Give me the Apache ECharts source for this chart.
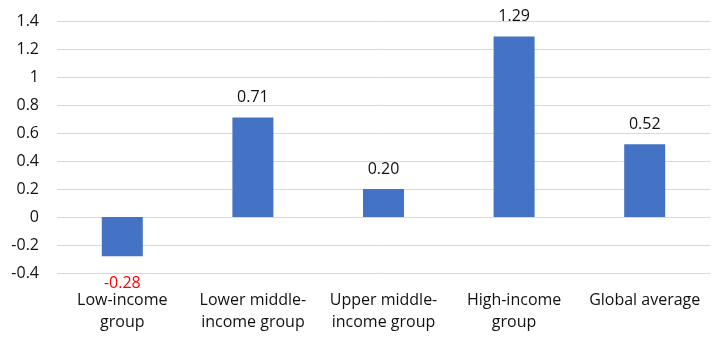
<!DOCTYPE html>
<html>
<head>
<meta charset="utf-8">
<script src="https://cdn.jsdelivr.net/npm/echarts@6/dist/echarts.min.js"></script>
<style>
  html, body { margin: 0; padding: 0; background: #fff; }
  #chart { width: 722px; height: 341px; }
</style>
</head>
<body>
<div id="chart"></div>
<script>
// Income groups and their values
const categories = [
  'Low-income\ngroup',
  'Lower middle-\nincome group',
  'Upper middle-\nincome group',
  'High-income\ngroup',
  'Global average'
];
const values = [-0.28, 0.71, 0.20, 1.29, 0.52];
const yTicks = { min: -0.4, max: 1.4, step: 0.2 };

const FONT = '"Open Sans", "Noto Sans", sans-serif';

const chart = echarts.init(document.getElementById('chart'), null, { renderer: 'canvas' });

chart.setOption({
  animation: false,
  backgroundColor: '#ffffff',
  grid: { left: 57, right: 12, top: 21, bottom: 68, containLabel: false },
  xAxis: {
    type: 'category',
    data: categories,
    position: 'bottom',
    axisLine: { show: false, onZero: false },
    axisTick: { show: false },
    axisLabel: {
      color: '#111111',
      fontFamily: FONT,
      fontSize: 16,
      lineHeight: 22,
      margin: 16,
      interval: 0
    }
  },
  yAxis: {
    type: 'value',
    min: yTicks.min,
    max: yTicks.max,
    interval: yTicks.step,
    axisLine: { show: false },
    axisTick: { show: false },
    splitLine: { lineStyle: { color: '#d9d9d9', width: 1 } },
    axisLabel: {
      color: '#111111',
      fontFamily: FONT,
      fontSize: 16,
      margin: 18,
      formatter: v => String(Math.round(v * 10) / 10)
    }
  },
  series: [{
    type: 'bar',
    barWidth: 41,
    data: values.map(v => ({
      value: v,
      label: v < 0 ? { color: '#ff0000', position: 'bottom', distance: 19 } : {}
    })),
    itemStyle: { color: '#4472c4' },
    label: {
      show: true,
      position: 'top',
      distance: 12,
      color: '#111111',
      fontFamily: FONT,
      fontSize: 16,
      formatter: p => p.value.toFixed(2)
    }
  }]
});
</script>
</body>
</html>
